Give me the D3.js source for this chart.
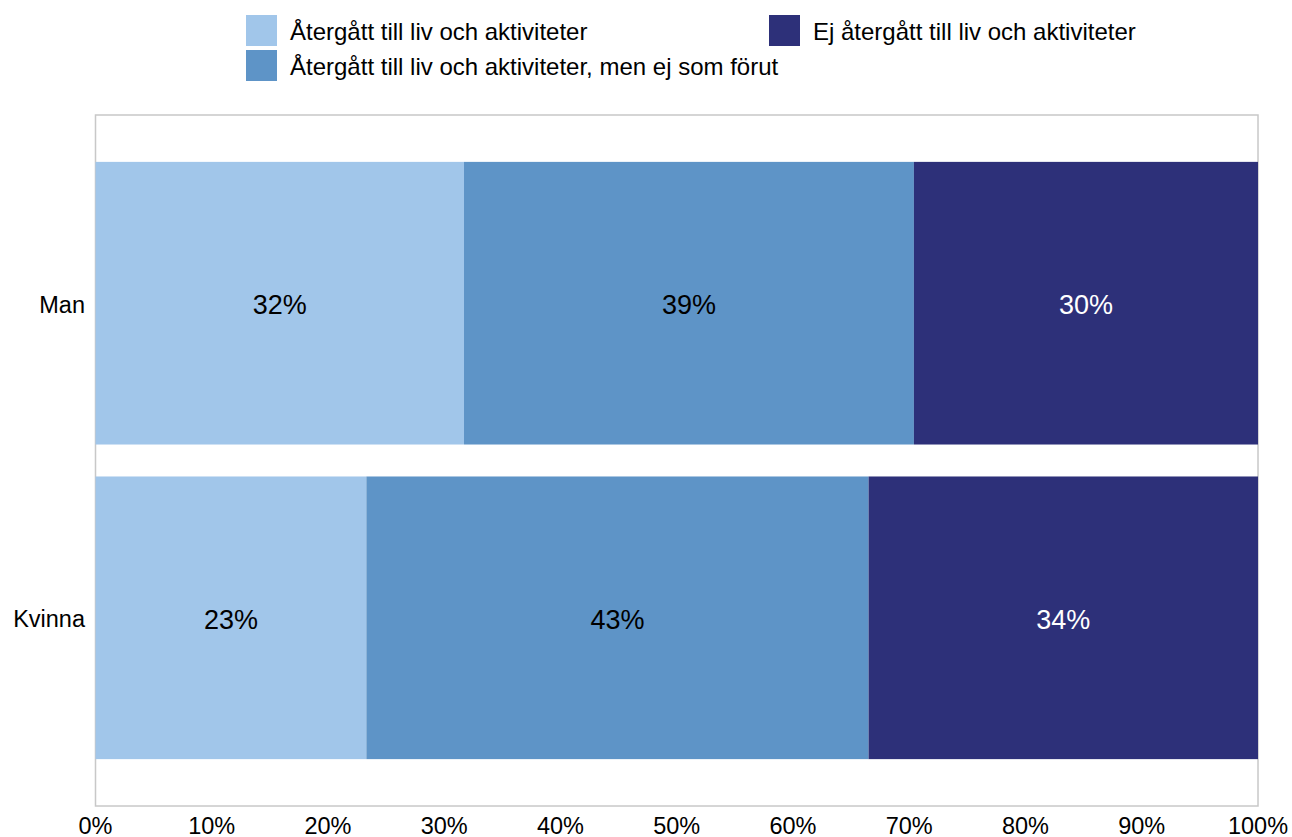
<!DOCTYPE html>
<html><head><meta charset="utf-8">
<script src="https://cdn.jsdelivr.net/npm/d3@7"></script>
<style>body{margin:0;background:#fff;font-family:"Liberation Sans",Arial,sans-serif;}</style>
</head><body>
<svg id="c" width="1292" height="837"></svg>
<script>
const categories = ["Man", "Kvinna"];
const seriesNames = ["Återgått till liv och aktiviteter", "Återgått till liv och aktiviteter, men ej som förut", "Ej återgått till liv och aktiviteter"];
const seriesColors = ["#A1C6EA", "#5E94C7", "#2D3079"];
const labelColors = ["#000", "#000", "#fff"];
const s1 = [31.7, 23.3];
const s2 = [38.7, 43.2];
const s3 = [29.6, 33.5];
const ticks = [0,10,20,30,40,50,60,70,80,90,100];

const svg = d3.select("#c");
const L=95.5, R=1258, T=115, B=806;
const x = d3.scaleLinear().domain([0,100]).range([L,R]);
const y = d3.scaleBand().domain(categories).range([T,B]).paddingInner(0.1016).paddingOuter(0.149);

svg.append("rect").attr("x",L).attr("y",T).attr("width",R-L).attr("height",B-T)
  .attr("fill","none").attr("stroke","#c8c8c8").attr("stroke-width",1.5);

const data = categories.map((c,i)=>({cat:c, v:[s1[i],s2[i],s3[i]]}));
data.forEach(d=>{
  let acc=0;
  d.v.forEach((v,j)=>{
    const x0=x(acc), x1=x(acc+v);
    svg.append("rect").attr("x",x0).attr("y",y(d.cat)).attr("width",x1-x0).attr("height",y.bandwidth()).attr("fill",seriesColors[j]);
    svg.append("text").attr("x",(x0+x1)/2).attr("y",y(d.cat)+y.bandwidth()/2+11).attr("text-anchor","middle")
      .attr("font-size",27).attr("fill",labelColors[j]).text(Math.round(v)+"%");
    acc+=v;
  });
});

// y labels
categories.forEach(c=>{
  svg.append("text").attr("x",85).attr("y",y(c)+y.bandwidth()/2+9.5)
   .attr("text-anchor","end").attr("font-size",23.5).attr("fill","#000").text(c);
});

// x ticks
ticks.forEach(t=>{
  svg.append("text").attr("x",x(t)).attr("y",834).attr("text-anchor","middle")
   .attr("font-size",23.5).attr("fill","#000").text(t+"%");
});

// legend
const leg=[{x:246,y:15},{x:246,y:50},{x:769,y:15}];
seriesNames.forEach((n,i)=>{
  svg.append("rect").attr("x",leg[i].x).attr("y",leg[i].y).attr("width",31).attr("height",31).attr("fill",seriesColors[i]);
  svg.append("text").attr("x",leg[i].x+44).attr("y",leg[i].y+25).attr("font-size",24).attr("fill","#000").text(n);
});
</script>
</body></html>
